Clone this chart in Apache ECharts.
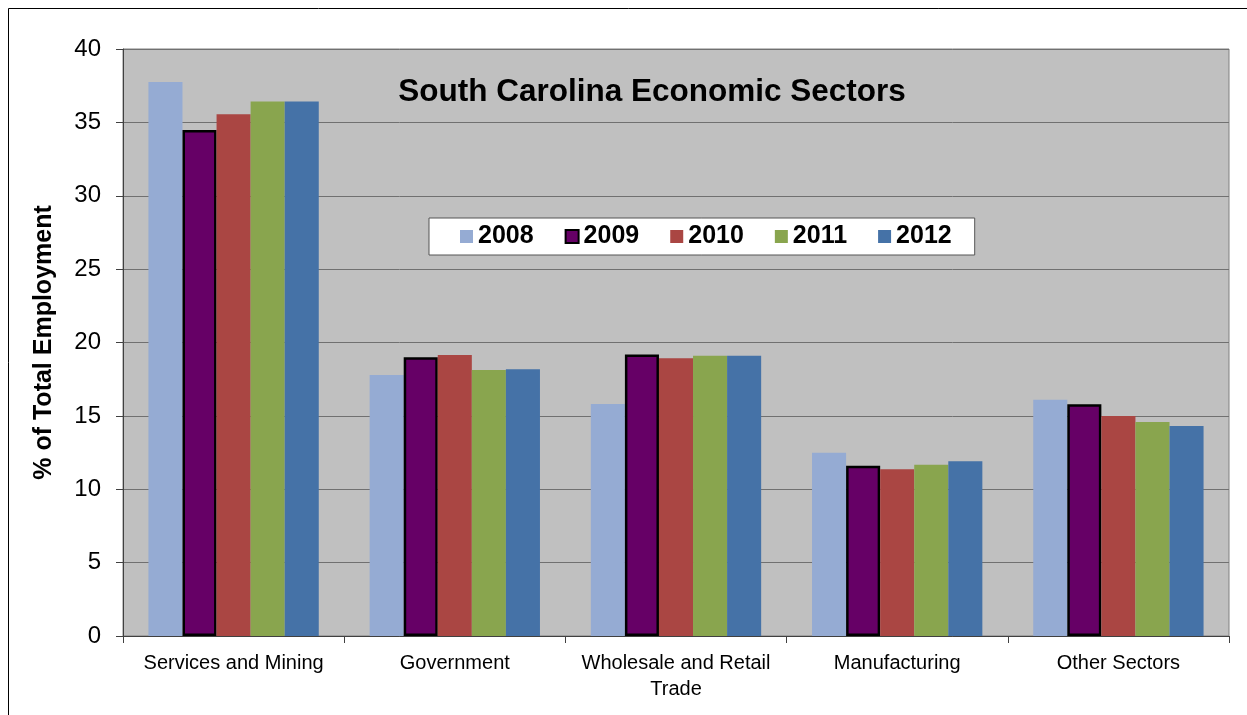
<!DOCTYPE html>
<html>
<head>
<meta charset="utf-8">
<script src="https://cdn.jsdelivr.net/npm/echarts@6/dist/echarts.min.js"></script>
<style>
  html, body { margin: 0; padding: 0; background: #fff; }
  #chart { width: 1247px; height: 715px; }
</style>
</head>
<body>
<div id="chart"></div>
<script>
// data
const sectors = ['Services and Mining', 'Government', 'Wholesale and Retail\nTrade', 'Manufacturing', 'Other Sectors']
const years = ['2008', '2009', '2010', '2011', '2012']
const y2008 = [37.75, 17.78, 15.81, 12.49, 16.1]
const y2009 = [34.48, 18.99, 19.19, 11.6, 15.79]
const y2010 = [35.55, 19.15, 18.92, 11.36, 15.0]
const y2011 = [36.43, 18.13, 19.1, 11.67, 14.58]
const y2012 = [36.43, 18.17, 19.1, 11.9, 14.31]
const yTicks = [0, 5, 10, 15, 20, 25, 30, 35, 40]

const colors = ['#95ABD3', '#660066', '#AA4643', '#89A54E', '#4572A7']
const font = 'Arial, "Liberation Sans", sans-serif'

const myChart = echarts.init(document.getElementById('chart'))

const seriesData = [y2008, y2009, y2010, y2011, y2012]
const series = seriesData.map((d, i) => ({
  name: years[i],
  type: 'bar',
  data: d,
  barGap: '0%',
  barCategoryGap: '23%',
  itemStyle: i === 1
    ? { color: colors[i], borderColor: '#000', borderWidth: 2.5 }
    : { color: colors[i] },
}))

const option = {
  animation: false,
  textStyle: { fontFamily: font },
  title: {
    text: 'South Carolina Economic Sectors',
    left: 647,
    top: 71,
    textAlign: 'center',
    textStyle: { fontSize: 31.5, fontWeight: 'bold', color: '#000', fontFamily: font },
  },
  legend: {
    data: years,
    left: 429,
    top: 218,
    orient: 'horizontal',
    backgroundColor: '#fff',
    borderColor: '#555',
    borderWidth: 1,
    padding: [6, 23, 6, 31],
    itemWidth: 13,
    itemHeight: 13,
    itemGap: 31,
    icon: 'rect',
    textStyle: { fontSize: 25, fontWeight: 'bold', color: '#000', fontFamily: font },
  },
  grid: {
    left: 123,
    top: 49,
    width: 1106,
    height: 587,
    show: true,
    backgroundColor: '#C0C0C0',
    borderColor: '#808080',
    borderWidth: 1,
  },
  xAxis: {
    type: 'category',
    data: sectors,
    axisLine: { show: true, lineStyle: { color: '#404040', width: 1 } },
    axisTick: { show: true, interval: 0, length: 7, lineStyle: { color: '#404040' } },
    axisLabel: { interval: 0, fontSize: 20, color: '#000', margin: 14, lineHeight: 26, fontFamily: font },
  },
  yAxis: {
    type: 'value',
    min: 0,
    max: 40,
    interval: 5,
    name: '% of Total Employment',
    nameLocation: 'middle',
    nameGap: 66,
    nameTextStyle: { fontSize: 25, fontWeight: 'bold', color: '#000', fontFamily: font },
    axisLine: { show: true, lineStyle: { color: '#404040', width: 1 } },
    axisTick: { show: true, length: 7, lineStyle: { color: '#404040' } },
    axisLabel: {
      fontSize: 24, color: '#000', margin: 22, fontFamily: font,
      formatter: (v) => (yTicks.includes(v) ? String(v) : ''),
    },
    splitLine: { show: true, lineStyle: { color: '#707070', width: 1 } },
  },
  graphic: [{
    type: 'rect',
    shape: { x: 8.5, y: 8.5, width: 1260, height: 720 },
    style: { fill: 'none', stroke: '#000', lineWidth: 1 },
    silent: true,
  }],
  series: series,
}

myChart.setOption(option)
window.addEventListener('resize', () => myChart.resize())
</script>
</body>
</html>
